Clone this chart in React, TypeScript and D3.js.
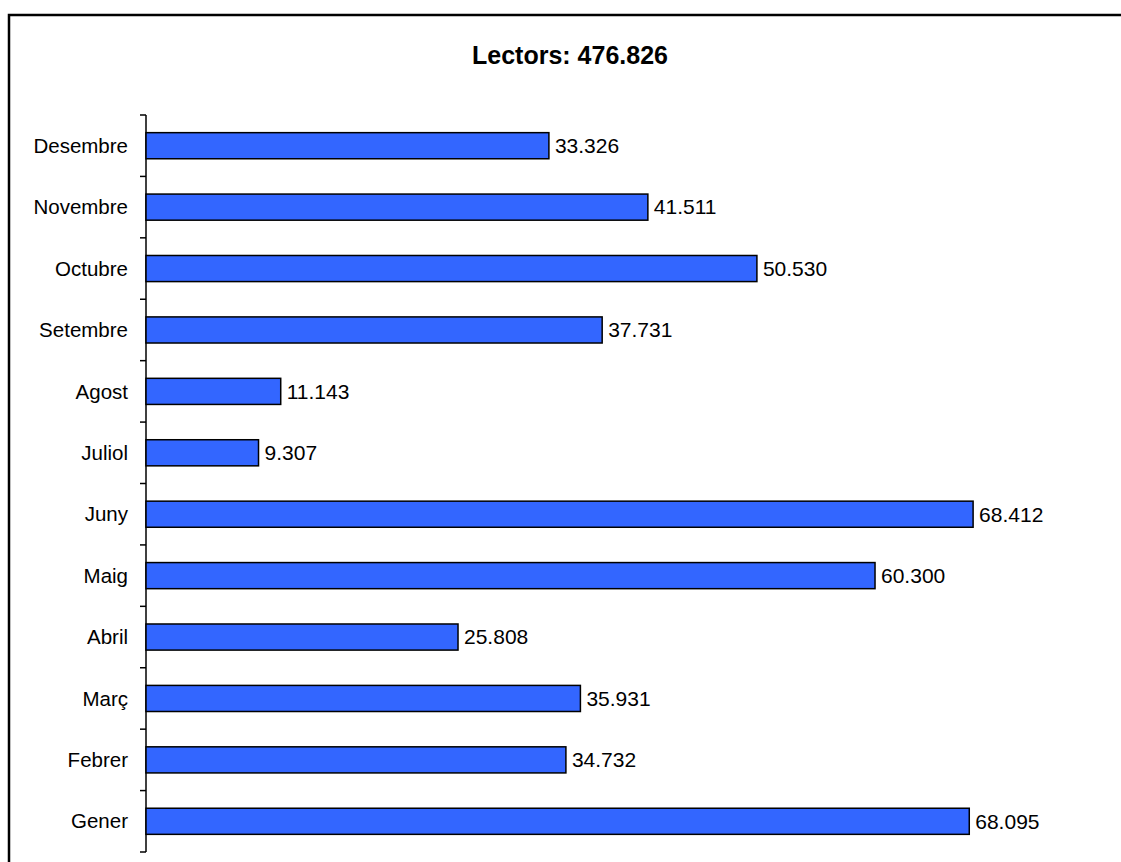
import { scaleBand, scaleLinear, formatLocale } from "d3";

const months = [
  "Gener",
  "Febrer",
  "Març",
  "Abril",
  "Maig",
  "Juny",
  "Juliol",
  "Agost",
  "Setembre",
  "Octubre",
  "Novembre",
  "Desembre",
];
const readers = [
  68095, 34732, 35931, 25808, 60300, 68412, 9307, 11143, 37731, 50530, 41511,
  33326,
];
const titleText = "Lectors: 476.826";

const width = 1121;
const height = 862;
const left = 146;
const top = 115;
const bottom = 852;

const font = "Arial, 'Liberation Sans', sans-serif";

const catalan = formatLocale({
  decimal: ",",
  thousands: ".",
  grouping: [3],
  currency: ["", " €"],
});
const fmt = catalan.format(",d");

function App() {
  const x = scaleLinear().domain([0, 75000]).range([left, left + 75 * 12.09]);

  // top to bottom: Desembre ... Gener
  const y = scaleBand<string>()
    .domain([...months].reverse())
    .range([top, bottom])
    .paddingInner(0.575)
    .paddingOuter(0.2875);

  const step = y.step();
  const ticks = months.map((_, i) => top + i * step).concat([bottom]);

  return (
    <svg
      width={width}
      height={height}
      style={{ position: "absolute", left: 0, top: 0, background: "#fff" }}
    >
      {/* frame with a faint shadow */}
      <rect x={11} y={17} width={1200} height={1000} fill="none" stroke="#999" strokeWidth={2} />
      <rect x={9} y={15} width={1200} height={1000} fill="#fff" stroke="#000" strokeWidth={2.5} />

      <text
        x={570}
        y={64}
        textAnchor="middle"
        fontFamily={font}
        fontWeight="bold"
        fontSize={25}
      >
        {titleText}
      </text>

      {/* category axis */}
      <line x1={left} x2={left} y1={top} y2={bottom} stroke="#000" strokeWidth={1.5} />
      {ticks.map((t, i) => (
        <line key={i} x1={left - 6} x2={left} y1={t} y2={t} stroke="#000" strokeWidth={1.5} />
      ))}

      {months.map((m, i) => {
        const by = y(m)!;
        const bh = y.bandwidth();
        const v = readers[i];
        return (
          <g key={m}>
            <rect
              x={x(0)}
              y={by}
              width={x(v) - x(0)}
              height={bh}
              fill="#3366FF"
              stroke="#000"
              strokeWidth={1.5}
            />
            <text
              x={128}
              y={by + bh / 2}
              dy="0.35em"
              textAnchor="end"
              fontFamily={font}
              fontSize={20.5}
            >
              {m}
            </text>
            <text
              x={x(v) + 6}
              y={by + bh / 2}
              dy="0.35em"
              fontFamily={font}
              fontSize={21}
            >
              {fmt(v)}
            </text>
          </g>
        );
      })}
    </svg>
  );
}

export default App;
